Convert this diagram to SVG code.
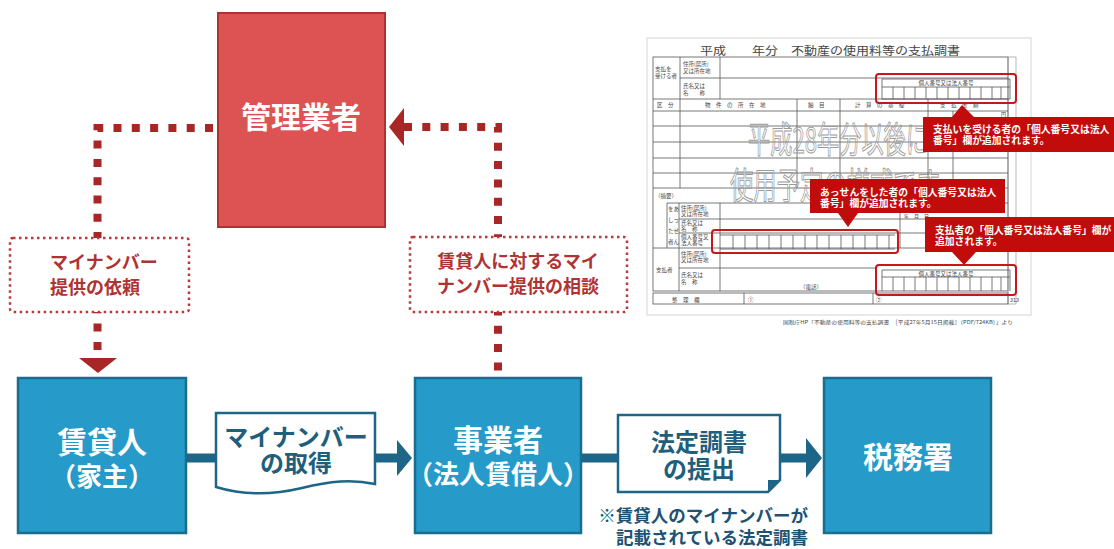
<svg xmlns="http://www.w3.org/2000/svg" width="1114" height="549" viewBox="0 0 1114 549">
<defs>
<style>
text{font-family:"Noto Sans CJK JP","Noto Sans CJK SC",sans-serif}
.fl{stroke:#555;stroke-width:0.8;fill:none}
.ft{font-size:5.5px;fill:#444}
.rb{fill:none;stroke:#c8161d;stroke-width:2}
.cl{fill:#c20b0b}
.ct{font-size:9.8px;font-weight:700;fill:#fff}
.dot{fill:none;stroke:#a82626;stroke-width:8;stroke-dasharray:8 10.3}
.lbl{fill:#fff;stroke:#b83a3a;stroke-width:2.5;stroke-dasharray:2.5 3.5}
.lt{font-size:18px;font-weight:700;fill:#b03333}
.bb{fill:#269ac8;stroke:#1b6d8e;stroke-width:2.5}
.bt{font-weight:700;fill:#fff;text-anchor:middle}
.doc{fill:#fff;stroke:#1d6687;stroke-width:2.5}
.dt{font-size:24px;font-weight:700;fill:#1e5f7e;text-anchor:middle}
.ln{stroke:#1d6687;stroke-width:9}
.ah{fill:#1d6687}
</style>
</defs>
<rect width="1114" height="549" fill="#fff"/>

<g id="form">
<rect x="647" y="38" width="384" height="277" fill="#fff" stroke="#e2e2e2" stroke-width="1.5"/>
<text x="700" y="55" font-size="11" fill="#444" textLength="260" lengthAdjust="spacingAndGlyphs">平成　　年分　不動産の使用料等の支払調書</text>
<rect x="653" y="57" width="355" height="234" class="fl"/>
<rect x="1008" y="57" width="8" height="247" fill="none" stroke="#888" stroke-width="0.6"/>
<path class="fl" d="M680,57V99M720,57V99M680,78H1008M653,99H1008M653,111H1008M680,99V188M797,99V188M840,99V188M928,99V188M953,111V188M653,126H1008M653,142H1008M653,158H1008M653,173H1008M653,188H1008"/>
<path class="fl" d="M667,203H1008M667,203V248M679,203V291M720,203V291M679,219H1008M679,233H1008M900,203V248M653,248H1008M679,268H876"/>
<rect x="653" y="293" width="355" height="11" class="fl"/>
<path class="fl" d="M744,293V304M873,293V304"/>
<g class="ft">
<text x="655" y="71">支払を</text><text x="655" y="78">受ける者</text>
<text x="683" y="66">住所(居所)</text><text x="683" y="73">又は所在地</text>
<text x="683" y="88">氏名又は</text><text x="683" y="95">名　　称</text>
<text x="657" y="107">区　分</text>
<text x="705" y="107">物　件　の　所　在　地</text>
<text x="808" y="107">細　目</text>
<text x="855" y="107">計　算　の　基　礎</text>
<text x="940" y="107">支　払　金　額</text>
<text x="1001" y="115.5" font-size="5">円</text>
<text x="655" y="198">（摘要）</text>
<text x="668" y="211">をあ</text><text x="668" y="222">しっ</text><text x="668" y="233">たせ</text><text x="668" y="244">者ん</text>
<text x="681" y="210">住所(居所)</text><text x="681" y="216">又は所在地</text>
<text x="681" y="225">氏名又は</text><text x="681" y="231">名　称</text>
<text x="681" y="239">個人番号又</text><text x="681" y="245">法人番号</text>
<text x="904" y="218" font-size="5">年　月　日</text>
<text x="656" y="272">支払者</text>
<text x="681" y="256">住所(居所)</text><text x="681" y="262">又は所在地</text>
<text x="681" y="277">氏名又は</text><text x="681" y="284">名　称</text>
<text x="800" y="289">（電話）</text>
<text x="672" y="302">整　理　欄</text>
<text x="748" y="302">①</text><text x="876" y="302">②</text>
<text x="1010" y="302">313</text>
<text x="783" y="324" font-size="5" textLength="230" lengthAdjust="spacingAndGlyphs">国税庁HP「不動産の使用料等の支払調書　［平成27年5月15日掲載］（PDF/724KB）」より</text>
</g>
<g fill="none" stroke="#9a9a9a" stroke-width="1">
<text x="748" y="153" font-size="36" textLength="180" lengthAdjust="spacingAndGlyphs" font-weight="400">平成28年分以後に</text>
<text x="730" y="199" font-size="36" textLength="210" lengthAdjust="spacingAndGlyphs" font-weight="400">使用予定の様式です</text>
</g>
<rect x="876" y="74" width="140" height="29" rx="3" class="rb"/>
<path class="fl" d="M882,79H1010M882,87H1010M882,79V99M1010,79V99M893,87V99M904,87V99M915,87V99M926,87V99M937,87V99M948,87V99M959,87V99M970,87V99M981,87V99M992,87V99M1001,87V99M882,99H1010"/>
<text x="946" y="85" class="ft" text-anchor="middle">個人番号又は法人番号</text>
<rect x="712" y="230" width="186" height="23" rx="3" class="rb"/>
<path class="fl" d="M720,235H895M720,249H895M733,235V249M745,235V249M757,235V249M769,235V249M781,235V249M793,235V249M805,235V249M817,235V249M829,235V249M841,235V249M853,235V249M865,235V249M877,235V249M889,235V249"/>
<rect x="876" y="265" width="140" height="30" rx="3" class="rb"/>
<path class="fl" d="M882,270H1010M882,277H1010M882,270V291M1010,270V291M893,277V291M904,277V291M915,277V291M926,277V291M937,277V291M948,277V291M959,277V291M970,277V291M981,277V291M992,277V291M1001,277V291"/>
<text x="946" y="275.5" class="ft" text-anchor="middle">個人番号又は法人番号</text>
<path class="cl" d="M923,117H952L962,105L974,117H1114V152H923Z"/>
<text x="933" y="133" class="ct">支払いを受ける者の「個人番号又は法人</text>
<text x="933" y="144" class="ct">番号」欄が追加されます。</text>
<path class="cl" d="M810,179H1005V213H858L848,227L838,213H810Z"/>
<text x="820" y="195.5" class="ct">あっせんをした者の「個人番号又は法人</text>
<text x="820" y="206.5" class="ct">番号」欄が追加されます。</text>
<path class="cl" d="M925,217H1114V252H976L964,265L952,252H925Z"/>
<text x="935" y="233.5" class="ct">支払者の「個人番号又は法人番号」欄が</text>
<text x="935" y="244.5" class="ct">追加されます。</text>
</g>

<g id="connectors">
<path class="dot" d="M213,128H97.5V356"/>
<polygon points="79,358 117,358 98,373" fill="#a82626"/>
<path class="dot" d="M404,127H498V372"/>
<polygon points="389,127 404,108 404,146" fill="#a82626"/>
<line x1="186" y1="458" x2="400" y2="458" class="ln"/>
<polygon points="397,440 412,458 397,476" class="ah"/>
<line x1="581" y1="458" x2="809" y2="458" class="ln"/>
<polygon points="806,438 822,458 806,478" class="ah"/>
</g>

<g id="node-kanri">
<rect x="218" y="13" width="167" height="214" fill="#dd5353" stroke="#b13131" stroke-width="2"/>
<text x="301" y="128" class="bt" font-size="30">管理業者</text>
</g>

<g id="label-irai">
<rect x="10" y="238" width="179" height="74" rx="3" class="lbl"/>
<text x="50" y="269" class="lt">マイナンバー</text>
<text x="50" y="294" class="lt">提供の依頼</text>
</g>

<g id="label-soudan">
<rect x="410" y="237" width="217" height="75" rx="3" class="lbl"/>
<text x="518" y="268" class="lt" text-anchor="middle">賃貸人に対するマイ</text>
<text x="518" y="293" class="lt" text-anchor="middle">ナンバー提供の相談</text>
</g>

<g id="node-chintai">
<rect x="18" y="378" width="168" height="155" class="bb"/>
<text x="102" y="453" class="bt" font-size="30">賃貸人</text>
<text x="102" y="486" class="bt" font-size="26">（家主）</text>
</g>

<g id="node-jigyo">
<rect x="415" y="378" width="166" height="155" class="bb"/>
<text x="498" y="451" class="bt" font-size="30">事業者</text>
<text x="498" y="484" class="bt" font-size="26">（法人賃借人）</text>
</g>

<g id="node-zeimu">
<rect x="824" y="378" width="167" height="155" class="bb"/>
<text x="908" y="468" class="bt" font-size="30">税務署</text>
</g>

<g id="doc-shutoku">
<path class="doc" d="M216,413H375V484C352,479 330,481 302,488C272,495 242,495 216,487Z"/>
<text x="296" y="446" class="dt">マイナンバー</text>
<text x="296" y="472" class="dt">の取得</text>
</g>

<g id="doc-teishutsu">
<path class="doc" d="M618,415H780V480L768,492H618Z"/>
<polygon points="780,480 768,480 768,492" fill="#1d6687"/>
<text x="699" y="451" class="dt">法定調書</text>
<text x="699" y="478" class="dt">の提出</text>
</g>

<g id="note" font-size="17.5" font-weight="700" fill="#1d5273" text-anchor="end">
<text x="808" y="522">※賃貸人のマイナンバーが</text>
<text x="808" y="544">記載されている法定調書</text>
</g>
</svg>
